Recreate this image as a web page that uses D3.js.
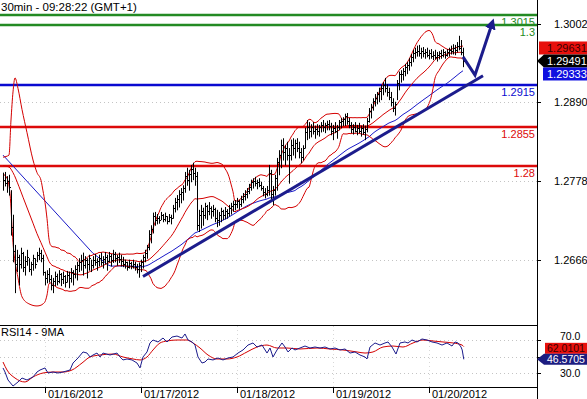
<!DOCTYPE html>
<html><head><meta charset="utf-8">
<script src="https://cdn.jsdelivr.net/npm/d3@7"></script>
<style>body{margin:0;background:#fff;}svg{display:block;font-family:"Liberation Sans",Arial,sans-serif;}</style>
</head><body><svg id="c" width="587" height="399"></svg>
<script>
// ---------- DATA (30 min EUR/USD bars, index 0 = first visible bar) ----------
const high = [
1.2790,1.2791,1.2785,1.2787,1.2765,1.2730,1.2687,1.2680,1.2673,1.2683,
1.2677,1.2671,1.2680,1.2668,1.2663,1.2673,1.2668,1.2677,1.2683,1.2680,
1.2673,1.2649,1.2651,1.2654,1.2644,1.2640,1.2649,1.2646,1.2651,1.2647,
1.2649,1.2644,1.2650,1.2649,1.2654,1.2651,1.2658,1.2663,1.2668,1.2673,
1.2676,1.2671,1.2668,1.2673,1.2666,1.2671,1.2674,1.2668,1.2673,1.2676,
1.2671,1.2677,1.2673,1.2677,1.2674,1.2680,1.2677,1.2673,1.2676,1.2673,
1.2670,1.2666,1.2663,1.2666,1.2663,1.2666,1.2663,1.2660,1.2662,1.2666,
1.2673,1.2680,1.2687,1.2708,1.2715,1.2733,1.2734,1.2731,1.2728,1.2734,
1.2731,1.2733,1.2728,1.2731,1.2730,1.2744,1.2754,1.2758,1.2765,1.2768,
1.2772,1.2791,1.2797,1.2794,1.2801,1.2804,1.2797,1.2791,1.2737,1.2744,
1.2740,1.2747,1.2744,1.2748,1.2742,1.2744,1.2740,1.2737,1.2734,1.2740,
1.2737,1.2741,1.2738,1.2744,1.2747,1.2750,1.2751,1.2754,1.2751,1.2757,
1.2761,1.2765,1.2768,1.2774,1.2780,1.2782,1.2784,1.2780,1.2782,1.2777,
1.2771,1.2768,1.2771,1.2801,1.2794,1.2771,1.2787,1.2811,1.2822,1.2837,
1.2839,1.2829,1.2834,1.2825,1.2837,1.2839,1.2837,1.2839,1.2834,1.2825,
1.2829,1.2854,1.2865,1.2862,1.2859,1.2862,1.2857,1.2859,1.2858,1.2862,
1.2865,1.2861,1.2864,1.2865,1.2861,1.2858,1.2862,1.2858,1.2865,1.2868,
1.2869,1.2874,1.2875,1.2868,1.2862,1.2859,1.2862,1.2858,1.2861,1.2857,
1.2859,1.2857,1.2868,1.2882,1.2888,1.2896,1.2902,1.2905,1.2911,1.2915,
1.2919,1.2925,1.2916,1.2911,1.2905,1.2896,1.2891,1.2922,1.2934,1.2936,
1.2939,1.2945,1.2948,1.2953,1.2959,1.2965,1.2968,1.2971,1.2972,1.2968,
1.2969,1.2966,1.2968,1.2965,1.2966,1.2963,1.2965,1.2962,1.2963,1.2965,
1.2966,1.2963,1.2966,1.2968,1.2971,1.2973,1.2972,1.2976,1.2985,1.2979,
1.2968];
const low = [
1.2765,1.2771,1.2762,1.2758,1.2701,1.2663,1.2619,1.2649,1.2630,1.2654,
1.2649,1.2644,1.2658,1.2649,1.2644,1.2651,1.2654,1.2663,1.2666,1.2663,
1.2644,1.2630,1.2633,1.2634,1.2623,1.2619,1.2629,1.2630,1.2633,1.2629,
1.2632,1.2627,1.2634,1.2626,1.2634,1.2630,1.2640,1.2637,1.2649,1.2651,
1.2644,1.2654,1.2640,1.2651,1.2649,1.2654,1.2658,1.2651,1.2657,1.2658,
1.2654,1.2660,1.2651,1.2663,1.2657,1.2662,1.2663,1.2658,1.2662,1.2657,
1.2656,1.2654,1.2651,1.2654,1.2653,1.2654,1.2651,1.2647,1.2641,1.2649,
1.2654,1.2663,1.2668,1.2680,1.2690,1.2704,1.2715,1.2717,1.2718,1.2723,
1.2720,1.2721,1.2717,1.2720,1.2717,1.2725,1.2734,1.2737,1.2741,1.2747,
1.2751,1.2762,1.2772,1.2765,1.2777,1.2780,1.2772,1.2708,1.2706,1.2711,
1.2715,1.2725,1.2723,1.2730,1.2725,1.2728,1.2720,1.2713,1.2715,1.2720,
1.2723,1.2724,1.2725,1.2728,1.2731,1.2735,1.2737,1.2740,1.2738,1.2742,
1.2747,1.2751,1.2754,1.2760,1.2765,1.2768,1.2771,1.2767,1.2770,1.2765,
1.2757,1.2754,1.2757,1.2758,1.2751,1.2744,1.2758,1.2765,1.2787,1.2797,
1.2808,1.2801,1.2808,1.2775,1.2808,1.2815,1.2811,1.2820,1.2811,1.2804,
1.2808,1.2825,1.2837,1.2839,1.2841,1.2845,1.2839,1.2844,1.2842,1.2848,
1.2849,1.2847,1.2851,1.2851,1.2844,1.2837,1.2847,1.2839,1.2851,1.2854,
1.2857,1.2857,1.2859,1.2854,1.2847,1.2845,1.2848,1.2844,1.2847,1.2842,
1.2845,1.2837,1.2848,1.2862,1.2868,1.2879,1.2885,1.2888,1.2891,1.2894,
1.2901,1.2905,1.2899,1.2894,1.2885,1.2877,1.2872,1.2894,1.2908,1.2919,
1.2922,1.2928,1.2931,1.2936,1.2942,1.2948,1.2953,1.2956,1.2956,1.2953,
1.2955,1.2953,1.2955,1.2952,1.2953,1.2951,1.2952,1.2949,1.2952,1.2953,
1.2955,1.2953,1.2956,1.2956,1.2959,1.2959,1.2958,1.2962,1.2965,1.2958,
1.2941];
const close = [
1.2780,1.2775,1.2778,1.2770,1.2712,1.2678,1.2660,1.2670,1.2660,1.2675,
1.2655,1.2664,1.2670,1.2652,1.2660,1.2668,1.2660,1.2672,1.2675,1.2668,
1.2648,1.2640,1.2645,1.2638,1.2630,1.2635,1.2642,1.2636,1.2645,1.2638,
1.2642,1.2634,1.2644,1.2640,1.2648,1.2645,1.2652,1.2658,1.2662,1.2665,
1.2658,1.2666,1.2660,1.2668,1.2658,1.2665,1.2662,1.2664,1.2668,1.2662,
1.2667,1.2670,1.2664,1.2671,1.2666,1.2674,1.2668,1.2670,1.2667,1.2664,
1.2660,1.2662,1.2656,1.2661,1.2657,1.2660,1.2655,1.2652,1.2658,1.2662,
1.2670,1.2676,1.2684,1.2702,1.2710,1.2728,1.2722,1.2726,1.2722,1.2730,
1.2724,1.2728,1.2721,1.2727,1.2726,1.2740,1.2748,1.2752,1.2760,1.2763,
1.2768,1.2785,1.2780,1.2788,1.2795,1.2790,1.2785,1.2715,1.2730,1.2735,
1.2730,1.2742,1.2735,1.2740,1.2736,1.2738,1.2726,1.2722,1.2730,1.2735,
1.2730,1.2736,1.2732,1.2740,1.2742,1.2746,1.2745,1.2750,1.2746,1.2752,
1.2757,1.2760,1.2764,1.2770,1.2776,1.2778,1.2775,1.2777,1.2772,1.2768,
1.2762,1.2760,1.2765,1.2790,1.2760,1.2765,1.2782,1.2805,1.2815,1.2830,
1.2820,1.2825,1.2815,1.2815,1.2830,1.2825,1.2832,1.2825,1.2820,1.2812,
1.2825,1.2848,1.2855,1.2850,1.2855,1.2850,1.2852,1.2850,1.2855,1.2858,
1.2855,1.2858,1.2860,1.2856,1.2850,1.2854,1.2850,1.2855,1.2862,1.2864,
1.2866,1.2870,1.2864,1.2858,1.2852,1.2855,1.2850,1.2854,1.2850,1.2853,
1.2848,1.2852,1.2864,1.2878,1.2884,1.2892,1.2896,1.2902,1.2906,1.2910,
1.2915,1.2910,1.2905,1.2898,1.2890,1.2882,1.2888,1.2918,1.2930,1.2930,
1.2935,1.2940,1.2944,1.2948,1.2955,1.2960,1.2962,1.2964,1.2960,1.2963,
1.2960,1.2962,1.2958,1.2960,1.2956,1.2958,1.2955,1.2958,1.2960,1.2958,
1.2962,1.2958,1.2962,1.2965,1.2964,1.2968,1.2965,1.2970,1.2968,1.2962,
1.2949];

// band / MA values before the 20- and 50-bar windows fill
const upperLead = [[0,1.2812],[3,1.2815],[4,1.2865],[5,1.2905],[6,1.2925],[7.5,1.2910],[9.5,1.2880],[12,1.2847],[15,1.2808],[17,1.2790]];
const midLead   = [[0,1.2800],[3,1.2798],[5,1.2790],[8,1.2770],[10,1.2755],[15,1.2718],[17,1.2703]];
const lowerLead = [[0,1.2788],[2,1.2782],[3.5,1.2760],[5,1.2690],[7.5,1.2640],[9.5,1.2613],[13,1.2603],[17,1.2600]];
const maLead    = [[0,1.2815],[45,1.2675]];

// RSI14 and its 9MA, [bar, value]
const rsi = [[0,36.1],[1,31.2],[2.5,21.5],[5,14.2],[7.5,19.1],[9.5,23.9],[12,21.5],[15,25.2],[17,31.2],[18.5,33.6],[21,36.1],[22.5,30.0],[25,31.2],[27.5,30.0],[30,31.2],[33.5,33.6],[35,42.1],[37.5,48.2],[40,55.5],[42,54.2],[43.5,49.4],[45,51.8],[47,54.2],[48.5,49.4],[50,54.2],[53.5,51.8],[57,54.2],[58.5,49.4],[60,45.8],[62,47.0],[64.5,45.8],[67,42.1],[68.5,36.1],[70,49.4],[72,55.5],[73.5,66.4],[75,70.0],[77.5,67.6],[80,72.4],[82,67.6],[84.5,73.6],[87,74.8],[89.5,72.4],[91,77.3],[92.5,70.0],[94.5,67.6],[96,63.9],[97.5,49.4],[99.5,42.1],[101,43.3],[102.5,47.0],[105,45.8],[107.5,48.2],[110,45.8],[112.5,48.2],[115,49.4],[117.5,54.2],[120,57.9],[122.5,63.9],[125,66.4],[127,61.5],[129.5,63.9],[132,54.2],[133.5,60.3],[135,49.4],[137,57.9],[139.5,66.4],[141,61.5],[142.5,55.5],[144.5,60.3],[146,57.9],[148.5,60.3],[151,62.7],[153.5,60.3],[156,61.5],[158.5,60.3],[161,61.5],[163.5,59.1],[166,60.3],[168.5,57.9],[171,59.1],[173.5,54.2],[176,55.5],[178.5,51.8],[181,49.4],[182,47.0],[183.5,61.5],[186,66.4],[188.5,63.9],[191,66.4],[192.5,67.6],[194.5,61.5],[196.5,53.0],[198.5,66.4],[201,67.6],[202.5,66.4],[204.5,70.0],[207,67.6],[209.5,71.2],[212,70.0],[214.5,67.6],[217,66.4],[219.5,63.9],[222,66.4],[224.5,62.7],[226,67.6],[227.5,66.4],[229,61.5],[229.6,57.9],[230.4,46.57]];
const rsiMA = [[0,43.3],[2,33.6],[6,23.9],[11,19.1],[15,25.2],[20,30.0],[25,31.2],[30,31.2],[34.5,33.6],[39.5,42.1],[43.5,49.4],[48.5,51.8],[55,53.0],[60,49.4],[65,47.0],[68.5,45.8],[72,49.4],[75,57.9],[78.5,66.4],[82,68.8],[87,70.0],[92,70.0],[95,66.4],[98.5,60.3],[102.5,51.8],[107,47.0],[112,47.0],[117,49.4],[122,55.5],[127,61.5],[132,63.9],[137,60.3],[142,60.3],[148.5,59.1],[157,60.3],[163.5,59.1],[170,57.9],[177,55.5],[181,54.2],[185,55.5],[190,61.5],[195,62.7],[200,61.5],[205,66.4],[210,70.0],[215,68.8],[220,67.6],[225,66.4],[229.5,63.9],[230.4,62.01]];

const dayTicks  = [21, 69, 117, 165, 213];
const dayLabels = ["01/16/2012","01/17/2012","01/18/2012","01/19/2012","01/20/2012"];
const priceTicks = [1.3002, 1.2890, 1.2778, 1.2666];
const priceTickLabels = ["1.3002","1.2890","1.2778","1.2666"];
const levelValues = [1.3015, 1.3, 1.2915, 1.2855, 1.28];
const levelLabels = ["1.3015","1.3","1.2915","1.2855","1.28"];
const trendLine = [[70,1.2642],[240,1.2928]];
const arrowPath = [[230,1.2955],[236,1.2929],[244,1.2998]];
const priceBoxValues = [1.29631, 1.29491, 1.29333];
const priceBoxLabels = ["1.29631","1.29491","1.29333"];
const rsiTicks = [70, 50, 30];
const rsiTickLabels = ["70.0", "", "30.0"];
const rsiBoxValues = [62.0101, 46.5705];
const rsiBoxLabels = ["62.0101","46.5705"];
const title = "30min - 09:28:22 (GMT+1)";
const rsiTitle = "RSI14 - 9MA";

// ---------- STYLE ----------
const levelColors = ["#238a23","#238a23","#0a0ad0","#dc0a0a","#dc0a0a"];
const RED = "#d40000", NAVY = "#1c1c8c", BLUE = "#1a1ac8";

// ---------- SCALES ----------
const svg = d3.select("#c");
const AX = 537;
const x = d3.scaleLinear().domain([0, 267]).range([3, 537]);
const y = d3.scaleLinear().domain([1.2580, 1.3036]).range([320, 0]);
const yr = d3.scaleLinear().domain([30, 70]).range([373, 340]);

const n = Math.min(high.length, low.length, close.length);

// indicators: Bollinger(20,2) and SMA50 of the closes
const upper = upperLead.slice(), mid = midLead.slice(), lower = lowerLead.slice();
for (let i = 19; i < n; i++) {
  let s = 0; for (let k = i - 19; k <= i; k++) s += close[k];
  const m = s / 20; let v = 0;
  for (let k = i - 19; k <= i; k++) v += (close[k] - m) ** 2;
  const sd = Math.sqrt(v / 20);
  upper.push([i, m + 2 * sd]); mid.push([i, m]); lower.push([i, m - 2 * sd]);
}
const ma = maLead.slice();
for (let i = 49; i < n; i++) {
  let s = 0; for (let k = i - 49; k <= i; k++) s += close[k];
  ma.push([i, s / 50]);
}

const defs = svg.append("defs");
defs.append("clipPath").attr("id","mainClip").append("rect").attr("x",0).attr("y",0).attr("width",AX).attr("height",322);
defs.append("clipPath").attr("id","rsiClip").append("rect").attr("x",0).attr("y",326).attr("width",AX).attr("height",61);
defs.append("marker").attr("id","ah").attr("viewBox","0 0 10 10").attr("refX",2).attr("refY",5)
  .attr("markerWidth",3.6).attr("markerHeight",3.6).attr("orient","auto")
  .append("path").attr("d","M0,0L10,5L0,10z").attr("fill",NAVY);

// ---------- MAIN PANEL ----------
const main = svg.append("g").attr("clip-path","url(#mainClip)");

main.selectAll(".pg").data(priceTicks).join("line")
  .attr("x1",0).attr("x2",AX).attr("y1",d=>Math.round(y(d))+0.5).attr("y2",d=>Math.round(y(d))+0.5)
  .attr("stroke","#c4c4c4").attr("stroke-dasharray","1,3");

main.selectAll(".lv").data(levelValues).join("line")
  .attr("x1",0).attr("x2",AX).attr("y1",d=>Math.round(y(d))).attr("y2",d=>Math.round(y(d)))
  .attr("stroke",(d,i)=>levelColors[i]).attr("stroke-width",2.4);

const lnSmooth = d3.line().x(d=>x(d[0])).y(d=>y(d[1])).curve(d3.curveMonotoneX);
const lin = d3.line().x(d=>x(d[0])).y(d=>y(d[1]));
main.append("path").datum(ma).attr("d",lin).attr("fill","none").attr("stroke",BLUE).attr("stroke-width",1);
[upper, mid, lower].forEach(b => main.append("path").datum(b).attr("d",lnSmooth).attr("fill","none").attr("stroke",RED).attr("stroke-width",1));

// OHLC bars
const bars = d3.range(n);
main.append("g").selectAll("line").data(bars).join("line")
  .attr("x1",i=>Math.round(x(i))+0.5).attr("x2",i=>Math.round(x(i))+0.5)
  .attr("y1",i=>y(high[i])).attr("y2",i=>y(low[i])+0.5)
  .attr("stroke","#000").attr("stroke-width",1);
main.append("g").selectAll("line").data(bars).join("line")
  .attr("x1",i=>Math.round(x(i))+1).attr("x2",i=>Math.round(x(i))+2)
  .attr("y1",i=>Math.round(y(close[i]))+0.5).attr("y2",i=>Math.round(y(close[i]))+0.5)
  .attr("stroke","#000").attr("stroke-width",1);

// trend line and arrow
main.append("path").datum(trendLine).attr("d",lin).attr("stroke",NAVY).attr("stroke-width",3).attr("fill","none");
svg.append("path").datum(arrowPath).attr("d",lin).attr("stroke",NAVY).attr("stroke-width",3)
  .attr("fill","none").attr("stroke-linejoin","miter").attr("marker-end","url(#ah)");

svg.selectAll(".lvt").data(levelValues).join("text")
  .attr("x",535).attr("y",d=>y(d)+11).attr("text-anchor","end")
  .attr("font-size",11).attr("fill",(d,i)=>levelColors[i]).text((d,i)=>levelLabels[i]);

svg.append("text").attr("x",1).attr("y",11).attr("font-size",11.5).attr("fill","#000").text(title);

// ---------- RSI PANEL ----------
svg.append("line").attr("x1",0).attr("x2",AX).attr("y1",325.5).attr("y2",325.5).attr("stroke","#000");
svg.append("line").attr("x1",0).attr("x2",AX).attr("y1",387.5).attr("y2",387.5).attr("stroke","#000");
const rp = svg.append("g").attr("clip-path","url(#rsiClip)");
rp.selectAll(".rg").data(rsiTicks).join("line")
  .attr("x1",0).attr("x2",AX).attr("y1",d=>Math.round(yr(d))+0.5).attr("y2",d=>Math.round(yr(d))+0.5)
  .attr("stroke","#c4c4c4").attr("stroke-dasharray","1,3");
rp.selectAll(".vg").data(dayTicks).join("line")
  .attr("x1",d=>Math.round(x(d))+0.5).attr("x2",d=>Math.round(x(d))+0.5).attr("y1",326).attr("y2",387)
  .attr("stroke","#d8d8d8").attr("stroke-dasharray","1,3");
rp.append("path").datum(rsiMA).attr("d",d3.line().x(d=>x(d[0])).y(d=>yr(d[1])).curve(d3.curveMonotoneX)).attr("fill","none").attr("stroke",RED).attr("stroke-width",1);
rp.append("path").datum(rsi).attr("d",d3.line().x(d=>x(d[0])).y(d=>yr(d[1]))).attr("fill","none").attr("stroke",NAVY).attr("stroke-width",1);
svg.append("text").attr("x",1).attr("y",336).attr("font-size",11).text(rsiTitle);

svg.selectAll(".dt").data(dayTicks).join("line")
  .attr("x1",d=>Math.round(x(d))+0.5).attr("x2",d=>Math.round(x(d))+0.5).attr("y1",388).attr("y2",393)
  .attr("stroke","#000");
svg.selectAll(".dl").data(dayTicks).join("text")
  .attr("x",d=>x(d)+3).attr("y",398).attr("font-size",11).text((d,i)=>dayLabels[i]);

// ---------- RIGHT AXIS ----------
svg.append("line").attr("x1",AX+0.5).attr("x2",AX+0.5).attr("y1",0).attr("y2",399).attr("stroke","#000");
svg.selectAll(".pt").data(priceTicks).join("line")
  .attr("x1",AX).attr("x2",AX+4).attr("y1",d=>Math.round(y(d))+0.5).attr("y2",d=>Math.round(y(d))+0.5).attr("stroke","#000");
svg.selectAll(".ptl").data(priceTicks).join("text")
  .attr("x",554).attr("y",d=>y(d)+4).attr("font-size",11).text((d,i)=>priceTickLabels[i]);
svg.selectAll(".rt").data(rsiTicks).join("line")
  .attr("x1",AX).attr("x2",AX+4).attr("y1",d=>Math.round(yr(d))+0.5).attr("y2",d=>Math.round(yr(d))+0.5).attr("stroke","#000");
svg.selectAll(".rtl").data(rsiTicks).join("text")
  .attr("x",560).attr("y",(d,i)=>yr(d)+(i===0?-0.5:4)).attr("font-size",10.5).text((d,i)=>rsiTickLabels[i]);

// value boxes
function box(cy, label, fill, txt, arrow, x0, h, fs) {
  const g = svg.append("g");
  const hh = h / 2;
  if (arrow) {
    g.append("path").attr("d",`M${AX},${cy}L${AX+7},${cy-hh}L587,${cy-hh}L587,${cy+hh}L${AX+7},${cy+hh}Z`).attr("fill",fill);
  } else {
    g.append("rect").attr("x",x0).attr("y",cy-hh).attr("width",587-x0).attr("height",h).attr("fill",fill);
  }
  g.append("text").attr("x",547).attr("y",cy+fs*0.36).attr("font-size",fs).attr("fill",txt).text(label);
}
const cur = y(priceBoxValues[1]);
box(Math.min(y(priceBoxValues[0]), cur-13), priceBoxLabels[0], "#e8100c", "#3a0000", false, 539, 13, 11);
box(cur, priceBoxLabels[1], "#000", "#fff", true, 0, 13, 11);
box(Math.max(y(priceBoxValues[2]), cur+13), priceBoxLabels[2], "#1010e0", "#fff", false, 543, 13, 11);
const rcur = yr(rsiBoxValues[1]);
box(rcur - 11, rsiBoxLabels[0], "#e8100c", "#3a0000", false, 545, 11, 10.5);
box(rcur, rsiBoxLabels[1], "#1c1c80", "#fff", true, 0, 11, 10.5);
</script></body></html>
